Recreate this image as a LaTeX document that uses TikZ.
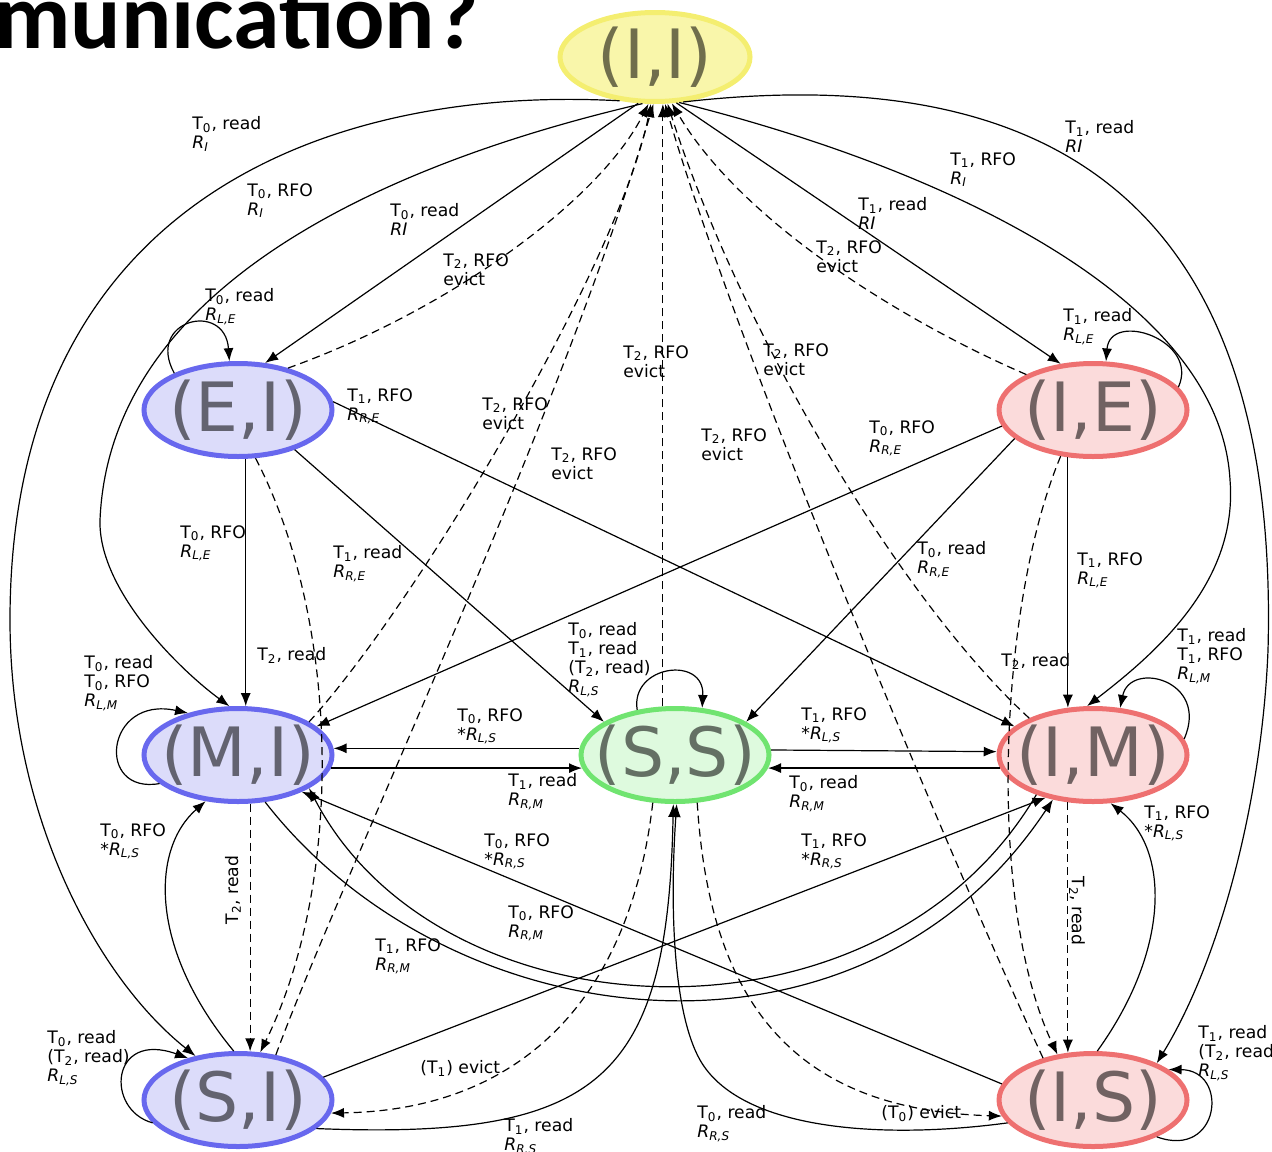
\documentclass[tikz,border=0pt]{standalone}
\usepackage{fontspec}
\setmainfont{DejaVu Sans}
\newfontfamily\titlefont{Carlito}
\usepackage{tikz}
\usetikzlibrary{arrows.meta,shapes.geometric}

\newcommand{\thr}[1]{T\textsubscript{#1}}
\newcommand{\req}[1]{\textit{R}\textsubscript{\textit{#1}}}

\definecolor{bluefill}{RGB}{220,220,250}
\definecolor{blueline}{RGB}{104,104,238}
\definecolor{redfill}{RGB}{251,219,219}
\definecolor{redline}{RGB}{238,112,112}
\definecolor{greenfill}{RGB}{222,250,222}
\definecolor{greenline}{RGB}{112,228,112}
\definecolor{yellowfill}{RGB}{249,246,170}
\definecolor{yellowline}{RGB}{244,238,112}

\tikzset{
  cstate/.style={ellipse, draw, line width=2.5pt, minimum width=94pt, minimum height=46.5pt,
    inner xsep=-14pt, inner ysep=0pt, text=black, text opacity=0.55, font=\fontsize{34}{34}\selectfont},
  bluestate/.style={cstate, fill=bluefill, draw=blueline},
  redstate/.style={cstate, fill=redfill, draw=redline},
  greenstate/.style={cstate, fill=greenfill, draw=greenline},
  yellowstate/.style={cstate, fill=yellowfill, draw=yellowline, minimum width=95pt, minimum height=44.5pt},
  lbl/.style={anchor=north west, inner sep=0pt, align=left, font=\fontsize{8.6}{9.5}\selectfont},
  tr/.style={->, line width=0.6pt},
  ev/.style={tr, dash pattern=on 4pt off 2.5pt},
  >={Latex[length=6.5pt,width=5pt]},
}

\begin{document}
\begin{tikzpicture}[x=0.5pt,y=-0.5pt]
    \useasboundingbox (0,0) rectangle (1272,1151);
    \node[anchor=base west, inner sep=0pt, font=\titlefont\bfseries\fontsize{47}{47}\selectfont] (ttl) at (-6,48) {munication?};

    % states
    \node[yellowstate] (II) at (655,57) {(I,I)};
    \node[bluestate] (EI) at (238,410) {(E,I)};
    \node[redstate] (IE) at (1093,410) {(I,E)};
    \node[bluestate] (MI) at (238,755) {(M,I)};
    \node[greenstate] (SS) at (675,755) {(S,S)};
    \node[redstate] (IM) at (1093,755) {(I,M)};
    \node[bluestate] (SI) at (238,1100) {(S,I)};
    \node[redstate] (IS) at (1093,1100) {(I,S)};

    % leaving (I,I)
    \draw[tr] (II.231) .. controls (330,85) and (10,200) .. (10,620) .. controls (10,820) and (100,980) .. (SI.134);
    \draw[tr] (II.255) .. controls (400,160) and (110,280) .. (100,520) .. controls (98,590) and (180,670) .. (MI.100);
    \draw[tr] (II.250) -- (EI.60);
    \draw[tr] (II.295) -- (IE.125);
    \draw[tr] (II.298) .. controls (950,170) and (1220,300) .. (1230,480) .. controls (1238,580) and (1160,650) .. (IM.97);
    \draw[tr] (II.302) .. controls (1050,60) and (1280,200) .. (1268,650) .. controls (1262,800) and (1220,960) .. (IS.30);

    % T2 RFO, back to (I,I)
    \draw[ev] (EI.40) .. controls (450,310) and (600,200) .. (II.262);
    \draw[ev] (MI.25) .. controls (420,600) and (620,260) .. (II.265);
    \draw[ev] (SI.50) .. controls (340,880) and (560,420) .. (II.268);
    \draw[ev] (SS.104) -- (SS.104 |- II.south);
    \draw[ev] (IS.140) .. controls (960,880) and (740,360) .. (II.282);
    \draw[ev] (IM.150) .. controls (900,600) and (740,330) .. (II.285);
    \draw[ev] (IE.152) .. controls (900,320) and (740,220) .. (II.290);

    % (E,I) and (I,E)
    \draw[tr] (EI.150) .. controls (145,320) and (225,300) .. (EI.100);
    \draw[tr] (EI.279) -- (MI.81);
    \draw[tr] (EI.325) -- (SS.155);
    \draw[tr] (EI.5) -- (IM.160);
    \draw[ev] (EI.290) .. controls (340,620) and (345,880) .. (SI.65);
    \draw[tr] (IE.15) .. controls (1200,340) and (1110,310) .. (IE.75);
    \draw[tr] (IE.242) -- (IM.118);
    \draw[tr] (IE.200) -- (SS.25);
    \draw[tr] (IE.190) -- (MI.20);
    \draw[ev] (IE.235) .. controls (1000,600) and (985,900) .. (IS.128);

    % (M,I), (S,S), (I,M)
    \draw[tr] (MI.200) .. controls (95,795) and (105,695) .. (MI.140);
    \draw[tr] (MI.352) -- (SS.188);
    \draw[tr] (SS.176) -- (MI.4);
    \draw[ev] (MI.284) -- (SI.76);
    \draw[tr] (MI.300) .. controls (450,1040) and (860,1090) .. (IM.228);
    \draw[tr] (IM.215) .. controls (880,1060) and (440,1040) .. (MI.335);
    \draw[tr] (SS.130) .. controls (630,665) and (705,655) .. (SS.60);
    \draw[tr] (SS.3) -- (IM.178);
    \draw[tr] (IM.188) -- (SS.352);
    \draw[ev] (SS.245) .. controls (630,1000) and (520,1110) .. (SI.352);
    \draw[ev] (SS.295) .. controls (710,1010) and (800,1110) .. (IS.190);
    \draw[tr] (IM.10) .. controls (1210,680) and (1130,660) .. (IM.60);
    \draw[ev] (IM.242) -- (IS.118);

    % (S,I) and (I,S)
    \draw[tr] (SI.195) .. controls (105,1110) and (110,1030) .. (SI.140);
    \draw[tr] (SI.95) .. controls (150,950) and (150,850) .. (MI.235);
    \draw[tr] (SI.15) -- (IM.222);
    \draw[tr] (SI.340) .. controls (600,1140) and (668,1080) .. (SS.268);
    \draw[tr] (IS.170) -- (MI.330);
    \draw[tr] (IS.85) .. controls (1170,950) and (1170,850) .. (IM.290);
    \draw[tr] (IS.195) .. controls (880,1140) and (740,1130) .. (700,1060) .. controls (672,1010) and (670,900) .. (SS.272);
    \draw[tr] (IS.330) .. controls (1220,1160) and (1230,1070) .. (IS.22);

    % labels
    \node[lbl] (lIISI) at (192,116) {\thr{0}, read\\\req{I}};
    \node[lbl] (lIIMI) at (247,183) {\thr{0}, RFO\\\req{I}};
    \node[lbl] (lIIEI) at (390,203) {\thr{0}, read\\\textit{RI}};
    \node[lbl] (lIIIS) at (1065,120) {\thr{1}, read\\\textit{RI}};
    \node[lbl] (lIIIM) at (950,152) {\thr{1}, RFO\\\req{I}};
    \node[lbl] (lIIIE) at (858,197) {\thr{1}, read\\\textit{RI}};
    \node[lbl] (eEI) at (443,253) {\thr{2}, RFO\\evict};
    \node[lbl] (eIE) at (816,240) {\thr{2}, RFO\\evict};
    \node[lbl] (eMI) at (482,397) {\thr{2}, RFO\\evict};
    \node[lbl] (eSI) at (551,447) {\thr{2}, RFO\\evict};
    \node[lbl] (eSS) at (623,345) {\thr{2}, RFO\\evict};
    \node[lbl] (eIM) at (763,343) {\thr{2}, RFO\\evict};
    \node[lbl] (eIS) at (701,428) {\thr{2}, RFO\\evict};
    \node[lbl] (lEIEI) at (205,288) {\thr{0}, read\\\req{L,E}};
    \node[lbl] (lEIMI) at (180,525) {\thr{0}, RFO\\\req{L,E}};
    \node[lbl] (lEISS) at (333,545) {\thr{1}, read\\\req{R,E}};
    \node[lbl] (lEIIM) at (347,388) {\thr{1}, RFO\\\req{R,E}};
    \node[lbl] (lEISI) at (257,647) {\thr{2}, read};
    \node[lbl] (lIEIE) at (1063,308) {\thr{1}, read\\\req{L,E}};
    \node[lbl] (lIEIM) at (1077,552) {\thr{1}, RFO\\\req{L,E}};
    \node[lbl] (lIESS) at (917,541) {\thr{0}, read\\\req{R,E}};
    \node[lbl] (lIEMI) at (869,420) {\thr{0}, RFO\\\req{R,E}};
    \node[lbl] (lIEIS) at (1001,653) {\thr{2}, read};
    \node[lbl] (lMIMI) at (84,655) {\thr{0}, read\\\thr{0}, RFO\\\req{L,M}};
    \node[lbl] (lSSSS) at (568,622) {\thr{0}, read\\\thr{1}, read\\(\thr{2}, read)\\\req{L,S}};
    \node[lbl] (lIMIM) at (1177,628) {\thr{1}, read\\\thr{1}, RFO\\\req{L,M}};
    \node[lbl] (lSSMI) at (457,708) {\thr{0}, RFO\\*\req{L,S}};
    \node[lbl] (lSSIM) at (801,707) {\thr{1}, RFO\\*\req{L,S}};
    \node[lbl] (lMISS) at (508,773) {\thr{1}, read\\\req{R,M}};
    \node[lbl] (lIMSS) at (789,775) {\thr{0}, read\\\req{R,M}};
    \node[lbl] (lISIM) at (1144,805) {\thr{1}, RFO\\*\req{L,S}};
    \node[lbl] (lSIMI) at (100,823) {\thr{0}, RFO\\*\req{L,S}};
    \node[lbl] (lISMI) at (484,833) {\thr{0}, RFO\\*\req{R,S}};
    \node[lbl] (lSIIM) at (801,833) {\thr{1}, RFO\\*\req{R,S}};
    \node[lbl, anchor=center, rotate=90] (lMISI) at (233,890) {\thr{2}, read};
    \node[lbl, anchor=center, rotate=-90] (lIMIS) at (1077,911) {\thr{2}, read};
    \node[lbl] (lIMMI) at (508,905) {\thr{0}, RFO\\\req{R,M}};
    \node[lbl] (lMIIM) at (375,938) {\thr{1}, RFO\\\req{R,M}};
    \node[lbl] (lSISI) at (47,1030) {\thr{0}, read\\(\thr{2}, read)\\\req{L,S}};
    \node[lbl] (lISIS) at (1198,1025) {\thr{1}, read\\(\thr{2}, read)\\\req{L,S}};
    \node[lbl] (lSSSI) at (420,1060) {(\thr{1}) evict};
    \node[lbl] (lSSIS) at (881,1105) {(\thr{0}) evict};
    \node[lbl] (lISSS) at (697,1105) {\thr{0}, read\\\req{R,S}};
    \node[lbl] (lSISS) at (504,1118) {\thr{1}, read\\\req{R,S}};
\end{tikzpicture}
\end{document}
